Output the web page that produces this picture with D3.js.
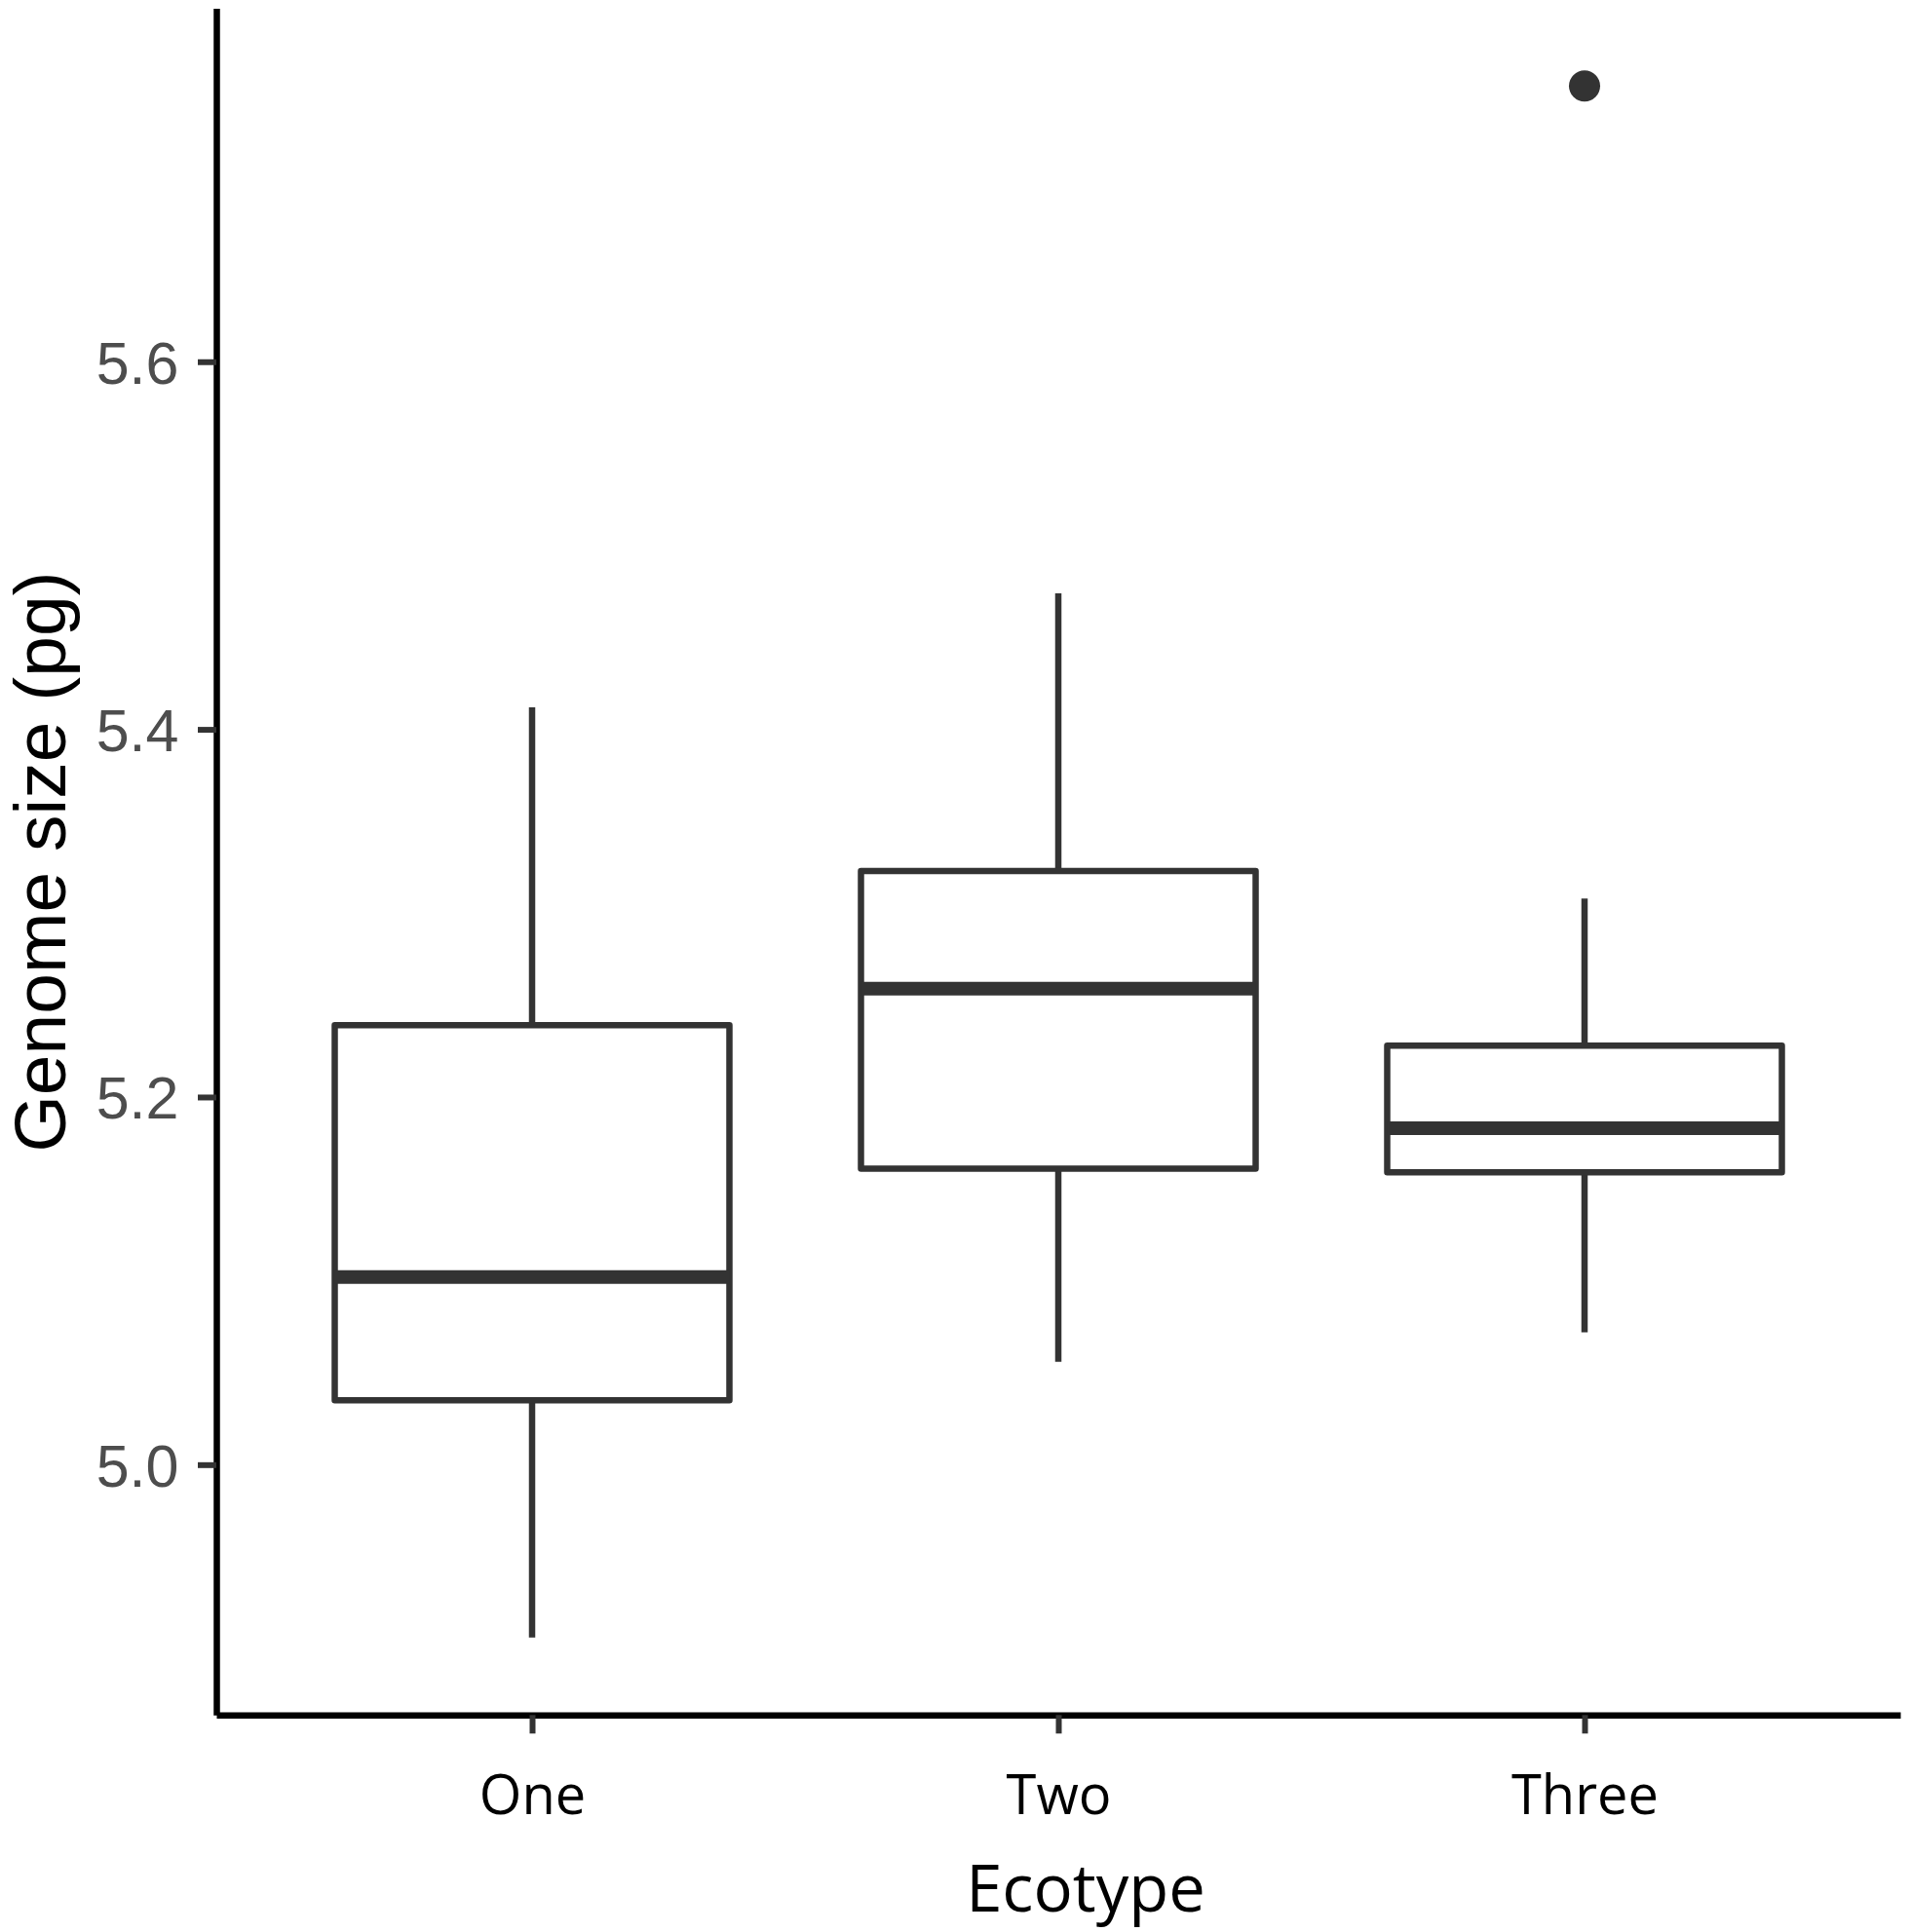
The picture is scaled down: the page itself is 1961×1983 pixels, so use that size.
<!DOCTYPE html>
<html lang="en">

<head>
  <meta charset="utf-8">
  <title>Genome size by ecotype</title>
  <style>
    body {
      margin: 0;
      background-color: #ffffff;
    }

    .tick text {
      font-family: 'Liberation Sans', Arial, sans-serif;
    }
  </style>
  <script src="https://cdn.jsdelivr.net/npm/d3@7/dist/d3.min.js" charset="utf-8"></script>
</head>

<body>
  <svg id="chart" width="1961" height="1983"></svg>

  <script type="text/javascript">
    // box plot summaries
    var categories = ["One", "Two", "Three"];
    var whiskerLow = [4.906, 5.056, 5.072];
    var q1 = [5.035, 5.161, 5.159];
    var medians = [5.102, 5.259, 5.183];
    var q3 = [5.239, 5.323, 5.228];
    var whiskerHigh = [5.412, 5.474, 5.308];
    var outlierCats = ["Three"];
    var outlierValues = [5.750];
    var yTicks = [5.0, 5.2, 5.4, 5.6];

    var boxes = categories.map(function (c, i) {
      return { cat: c, lo: whiskerLow[i], q1: q1[i], med: medians[i], q3: q3[i], hi: whiskerHigh[i] };
    });
    var outliers = outlierCats.map(function (c, i) { return { cat: c, value: outlierValues[i] }; });

    // panel edges (note: "top" is taken by window.top)
    var panelLeft = 222, panelRight = 1950, panelTop = 8.6, panelBottom = 1760.3;
    var ink = "#333333";

    var svg = d3.select("#chart");

    // ggplot style 5% expansion of the data range
    var allVals = whiskerLow.concat(whiskerHigh, outlierValues);
    var lo = d3.min(allVals), hi = d3.max(allVals), pad = (hi - lo) * 0.05;

    var x = d3.scalePoint().domain(categories).range([panelLeft, panelRight]).padding(0.6);
    var y = d3.scaleLinear().domain([lo - pad, hi + pad]).range([panelBottom, panelTop]);
    var boxW = x.step() * 0.75;

    // whiskers
    svg.selectAll(".whisker").data(boxes).enter().append("line")
      .attr("class", "whisker")
      .attr("x1", function (d) { return x(d.cat); })
      .attr("x2", function (d) { return x(d.cat); })
      .attr("y1", function (d) { return y(d.lo); })
      .attr("y2", function (d) { return y(d.hi); })
      .attr("stroke", ink)
      .attr("stroke-width", 6.5);

    // boxes
    svg.selectAll(".box").data(boxes).enter().append("rect")
      .attr("class", "box")
      .attr("x", function (d) { return x(d.cat) - boxW / 2; })
      .attr("width", boxW)
      .attr("y", function (d) { return y(d.q3); })
      .attr("height", function (d) { return y(d.q1) - y(d.q3); })
      .attr("fill", "#ffffff")
      .attr("stroke", ink)
      .attr("stroke-width", 6.5)
      .attr("stroke-linejoin", "round");

    // medians
    svg.selectAll(".median").data(boxes).enter().append("line")
      .attr("class", "median")
      .attr("x1", function (d) { return x(d.cat) - boxW / 2; })
      .attr("x2", function (d) { return x(d.cat) + boxW / 2; })
      .attr("y1", function (d) { return y(d.med); })
      .attr("y2", function (d) { return y(d.med); })
      .attr("stroke", ink)
      .attr("stroke-width", 14);

    svg.selectAll(".outlier").data(outliers).enter().append("circle")
      .attr("class", "outlier")
      .attr("cx", function (d) { return x(d.cat); })
      .attr("cy", function (d) { return y(d.value); })
      .attr("r", 16)
      .attr("fill", ink);

    // axes
    var yAxis = svg.append("g")
      .attr("transform", "translate(" + panelLeft + ",0)")
      .call(d3.axisLeft(y).tickValues(yTicks).tickFormat(d3.format(".1f"))
        .tickSize(19).tickSizeOuter(0).tickPadding(19.5));
    yAxis.select(".domain").attr("stroke", "#000000").attr("stroke-width", 6.5);
    yAxis.selectAll(".tick line").attr("stroke", ink).attr("stroke-width", 6);
    yAxis.selectAll(".tick text").attr("fill", "#4d4d4d").attr("font-size", 61).attr("dy", "0.36em");

    var xAxis = svg.append("g")
      .attr("transform", "translate(0," + panelBottom + ")")
      .call(d3.axisBottom(x).tickSize(19).tickSizeOuter(0).tickPadding(43));
    xAxis.select(".domain").attr("stroke", "#000000").attr("stroke-width", 6.5);
    xAxis.selectAll(".tick line").attr("stroke", ink).attr("stroke-width", 6);
    xAxis.selectAll(".tick text")
      .attr("fill", "#000000")
      .attr("font-size", 56)
      .style("font-family", "'Open Sans', sans-serif");

    // titles
    svg.append("text")
      .attr("x", 1114).attr("y", 1962)
      .attr("text-anchor", "middle")
      .attr("font-family", "'Open Sans', sans-serif")
      .attr("font-size", 67)
      .attr("fill", "#000000")
      .text("Ecotype");

    svg.append("text")
      .attr("transform", "translate(67," + ((panelTop + panelBottom) / 2) + ")rotate(-90)")
      .attr("text-anchor", "middle")
      .attr("font-family", "'Liberation Sans', Arial, sans-serif")
      .attr("font-size", 75)
      .attr("fill", "#000000")
      .text("Genome size (pg)");
  </script>
</body>

</html>
